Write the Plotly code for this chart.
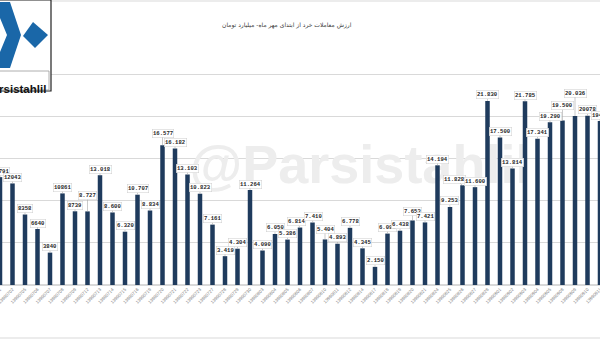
import plotly.graph_objects as go

# ---------------- data ----------------
dates = ["13990701", "13990702", "13990705", "13990706", "13990707", "13990708", "13990709",
         "13990712", "13990713", "13990714", "13990715", "13990716", "13990719", "13990720",
         "13990721", "13990722", "13990723", "13990727", "13990728", "13990729", "13990730",
         "13990803", "13990804", "13990805", "13990806", "13990807", "13990810", "13990811",
         "13990812", "13990814", "13990817", "13990818", "13990819", "13990820", "13990821",
         "13990824", "13990825", "13990826", "13990827", "13990828", "13990901", "13990902",
         "13990903", "13990904", "13990905", "13990908", "13990909", "13990910", "13990911"]

values = [12791, 12043, 8358, 6640, 3840, 10861, 8739, 8727, 13018, 8600, 6320, 10707, 8834,
          16577, 16182, 13103, 10823, 7161, 3419, 4304, 11264, 4090, 6050, 5386, 6814, 7410,
          5404, 4893, 6778, 4345, 2150, 6098, 6438, 7653, 7421, 14194, 9253, 11828, 11600,
          21830, 17500, 13814, 21785, 17341, 19290, 19500, 20036, 20078, 19441]

value_labels = ["12791", "12043", "8358", "6640", "3840", "10861", "8739", "8.727", "13.018",
                "8.600", "6.320", "10.707", "8.834", "16.577", "16.182", "13.103", "10.823",
                "7.161", "3.419", "4.304", "11.264", "4.090", "6.050", "5.386", "6.814", "7.410",
                "5.404", "4.893", "6.778", "4.345", "2.150", "6.098", "6.438", "7.653", "7.421",
                "14.194", "9.253", "11.828", "11.600", "21.830", "17.500", "13.814", "21.785",
                "17.341", "19.290", "19.500", "20.036", "20078", "19441"]

title_text = "ارزش معاملات خرد از ابتدای مهر ماه- میلیارد تومان"
watermark_text = "@Parsistahlil"
logo_text = "Parsistahlil"

# ---------------- styling ----------------
W, H = 600, 343
M_T, M_B = 32, 58
PLOT_H = H - M_T - M_B
BAR_COLOR = "#1f3b5d"
LOGO_BLUE = "#1a67a8"

# label offsets (px above bar top / px sideways) for labels that were moved in the original
label_offset = {7: 16, 13: 12, 26: 10, 33: 9, 45: 15, 46: 23}
label_xoffset = {37: -8, 24: -4, 25: 1, 36: -1}
DEFAULT_OFFSET = 6


def px(x):
    return x / W


def py(y):
    return (H - M_B - y) / PLOT_H


def path(points):
    return "M " + " L ".join(f"{px(a):.5f},{py(b):.5f}" for a, b in points) + " Z"


fig = go.Figure()

# watermark (drawn on the base subplot, below the bars)
fig.add_trace(go.Scatter(
    x=[0.6], y=[0.455], mode="text", text=[watermark_text],
    textfont=dict(family="Liberation Sans", size=54, color="#ededed", weight="bold"),
    xaxis="x", yaxis="y", hoverinfo="skip", showlegend=False))

# bars on an overlaying subplot so they sit above the watermark
fig.add_trace(go.Bar(
    x=dates, y=values, marker=dict(color=BAR_COLOR, line=dict(width=0)),
    xaxis="x2", yaxis="y2", showlegend=False))

annotations = []
for i, (v, t) in enumerate(zip(values, value_labels)):
    off = label_offset.get(i, DEFAULT_OFFSET)
    annotations.append(dict(
        x=i, y=v, xref="x2", yref="y2", text=t,
        showarrow=True, ax=label_xoffset.get(i, 0), ay=-off, arrowhead=0, arrowwidth=0.6,
        arrowcolor="#a6a6a6",
        font=dict(family="Liberation Mono", size=5.6, color="#262626", weight="bold"),
        bgcolor="white", bordercolor="#cccccc", borderwidth=0.5, borderpad=0.5))

# title
annotations.append(dict(
    x=px(287), y=py(19), xref="paper", yref="paper", text=title_text, showarrow=False,
    font=dict(family="DejaVu Sans", size=6, color="#404040")))

# logo text
annotations.append(dict(
    x=px(47.5), y=py(80.5), xref="paper", yref="paper", xanchor="right", text=logo_text,
    showarrow=False, font=dict(family="Liberation Sans", size=11.5, color="#111111", weight="bold")))

shapes = [
    # chart frame
    dict(type="rect", xref="paper", yref="paper", x0=px(-2), x1=px(602), y0=py(1), y1=py(338),
         line=dict(color="#d9d9d9", width=1), fillcolor="rgba(0,0,0,0)", layer="below"),
    # logo box
    dict(type="rect", xref="paper", yref="paper", x0=px(-3), x1=px(51), y0=py(0), y1=py(91),
         line=dict(color="#222222", width=1.2), fillcolor="white"),
    # logo chevron
    dict(type="path", xref="paper", yref="paper",
         path=path([(-2, 2), (10, 2), (21, 35), (10, 68), (-2, 68), (-2, 57), (7, 35), (-2, 13)]),
         fillcolor=LOGO_BLUE, line=dict(width=0)),
    # logo diamond
    dict(type="path", xref="paper", yref="paper",
         path=path([(33, 22), (48, 35), (35, 48), (23, 36)]),
         fillcolor=LOGO_BLUE, line=dict(width=0)),
    # logo text box
    dict(type="rect", xref="paper", yref="paper", x0=px(-3), x1=px(49), y0=py(71), y1=py(90),
         line=dict(color="#9a9a9a", width=0.8), fillcolor="white"),
]

fig.update_layout(
    width=W, height=H,
    margin=dict(l=0, r=0, t=M_T, b=M_B, pad=0),
    paper_bgcolor="white", plot_bgcolor="rgba(0,0,0,0)",
    bargap=0.64,
    xaxis=dict(visible=False, range=[0, 1], fixedrange=True),
    yaxis=dict(visible=False, range=[0, 1], fixedrange=True),
    xaxis2=dict(overlaying="x", type="category", range=[0, 48], tickangle=-45,
                tickfont=dict(family="Liberation Sans", size=4.5, color="#7f7f7f"),
                showgrid=False, showline=False, ticks="", automargin=False, zeroline=False),
    yaxis2=dict(overlaying="y", range=[0, 30000], dtick=5000, showticklabels=False,
                gridcolor="#d9d9d9", gridwidth=1, zeroline=True, zerolinecolor="#d9d9d9",
                showline=False, ticks="", automargin=False),
    annotations=annotations,
    shapes=shapes,
)

fig.write_html("out.html")
